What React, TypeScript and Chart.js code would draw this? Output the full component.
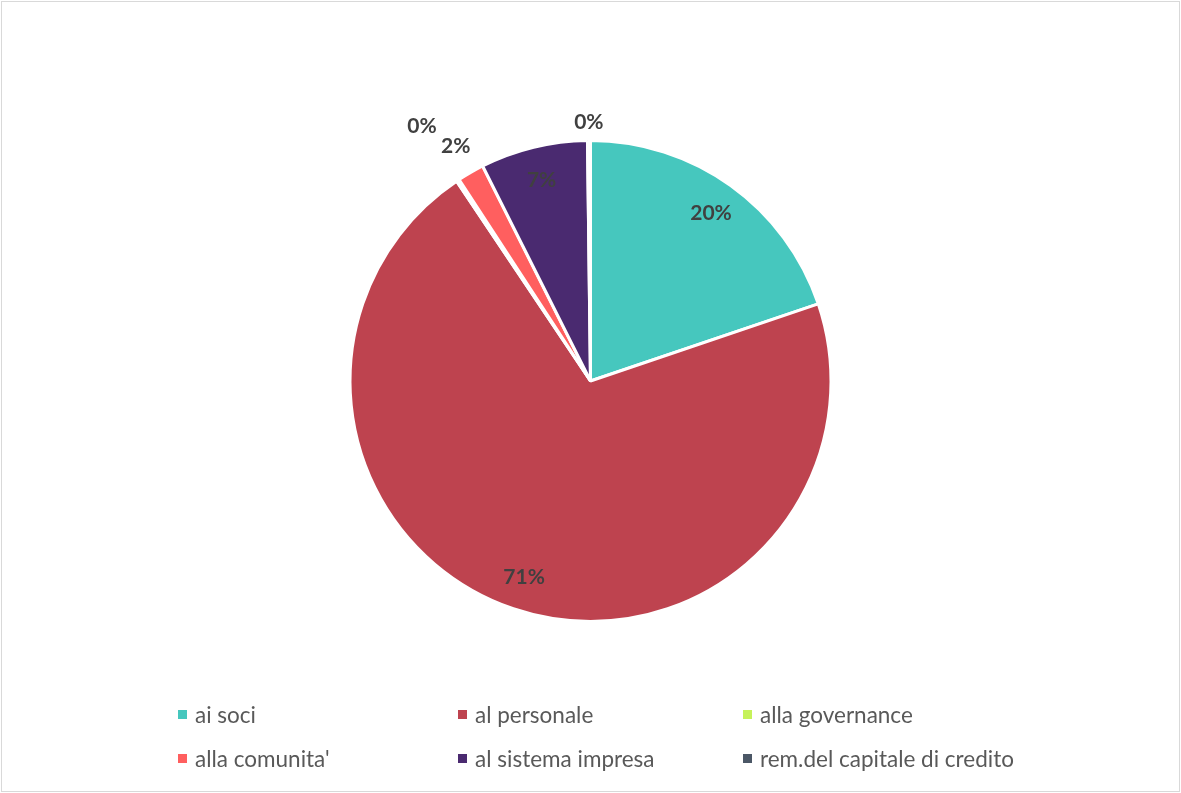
import React, { useEffect, useRef } from "react";
import { Chart, registerables } from "chart.js";

Chart.register(...registerables);

const categories = [
  "ai soci",
  "al personale",
  "alla governance",
  "alla comunita'",
  "al sistema impresa",
  "rem.del capitale di credito",
];
const values = [19.8, 70.8, 0.2, 1.8, 7.2, 0.2];
const colors = ["#46C7BE", "#BE434F", "#C6F25A", "#FF5F5F", "#4A2A70", "#4B5766"];

const labelPlugin = {
  id: "pctLabels",
  afterDatasetsDraw(chart: any) {
    const ctx = chart.ctx;
    const meta = chart.getDatasetMeta(0);
    const data = chart.data.datasets[0].data as number[];
    const total = data.reduce((a: number, b: number) => a + b, 0);
    const outside = chart.options.plugins.pctLabels.outsideFactors;
    ctx.save();
    ctx.font = "bold 21px Lato, 'Open Sans', sans-serif";
    ctx.fillStyle = "#404040";
    ctx.textAlign = "center";
    ctx.textBaseline = "middle";
    meta.data.forEach((arc: any, i: number) => {
      const p = arc.getProps(["x", "y", "startAngle", "endAngle", "outerRadius"], true);
      const mid = (p.startAngle + p.endAngle) / 2;
      const pct = (data[i] / total) * 100;
      const f = pct < 3 ? outside[i] : 0.86;
      const r = p.outerRadius * f;
      const x = p.x + Math.cos(mid) * r;
      const y = p.y + Math.sin(mid) * r;
      ctx.fillText(Math.round(pct) + "%", x, y);
    });
    ctx.restore();
  },
};

export default function App() {
  const ref = useRef<HTMLCanvasElement | null>(null);
  useEffect(() => {
    document.body.style.margin = "0";
    if (!ref.current) return;
    const chart = new Chart(ref.current, {
      type: "pie",
      data: {
        labels: categories,
        datasets: [
          {
            data: values,
            backgroundColor: colors,
            borderColor: "#ffffff",
            borderWidth: 3,
          },
        ],
      },
      options: {
        animation: false,
        responsive: false,
        maintainAspectRatio: false,
        layout: { padding: { top: 139, bottom: 170, left: 0, right: 0 } },
        plugins: {
          legend: { display: false },
          tooltip: { enabled: false },
          pctLabels: { outsideFactors: [1.1, 1.1, 1.27, 1.125, 1.1, 1.075] },
        } as any,
      },
      plugins: [labelPlugin],
    });
    return () => chart.destroy();
  }, []);

  const legendItem = (i: number, left: number, top: number) => (
    <div
      key={i}
      style={{
        position: "absolute",
        left,
        top,
        display: "flex",
        alignItems: "center",
        height: 24,
        whiteSpace: "nowrap",
      }}
    >
      <span
        style={{
          display: "inline-block",
          width: 9,
          height: 9,
          background: colors[i],
          marginRight: 8,
        }}
      />
      <span style={{ fontFamily: "Lato, 'Open Sans', sans-serif", fontSize: 22.5, color: "#595959" }}>
        {categories[i]}
      </span>
    </div>
  );

  const colLeft = [178, 458, 743];
  const rowTop = [702, 746];

  return (
    <div
      style={{
        position: "relative",
        width: 1181,
        height: 793,
        background: "#ffffff",
        overflow: "hidden",
      }}
    >
      <canvas
        ref={ref}
        width={1181}
        height={793}
        style={{ position: "absolute", left: 0, top: 0, width: 1181, height: 793 }}
      />
      <div
        style={{
          position: "absolute",
          left: 1,
          top: 1,
          width: 1179,
          height: 791,
          border: "1px solid #d9d9d9",
          boxSizing: "border-box",
          pointerEvents: "none",
        }}
      />
      {categories.map((_, i) => legendItem(i, colLeft[i % 3], rowTop[Math.floor(i / 3)]))}
    </div>
  );
}
